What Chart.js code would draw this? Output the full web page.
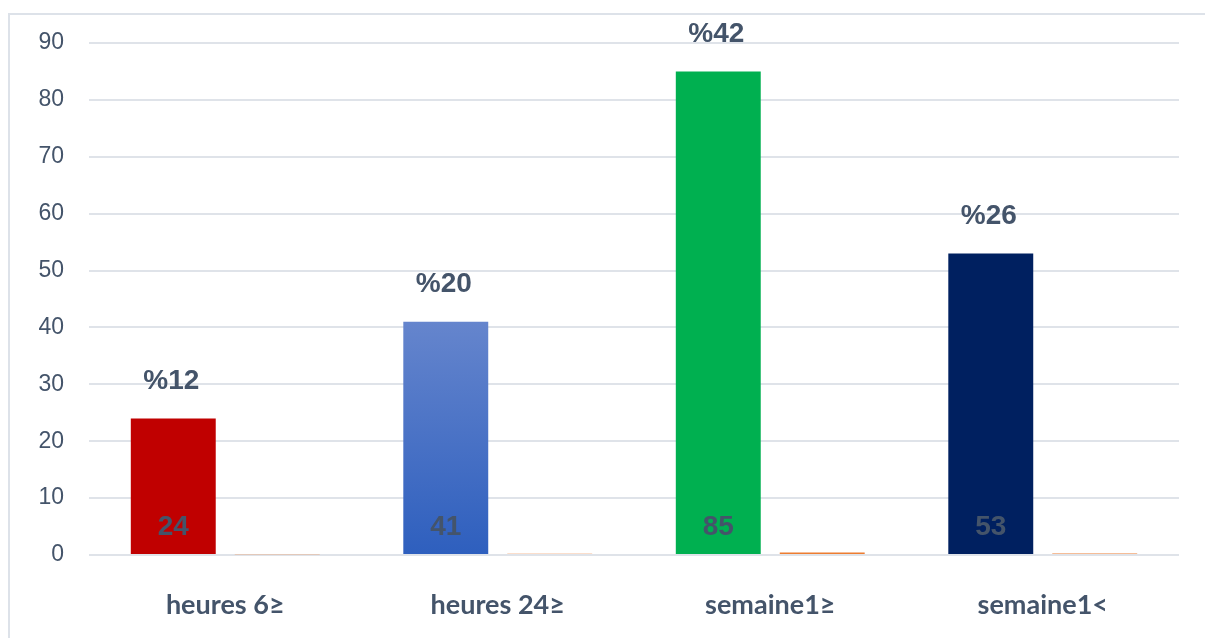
<!DOCTYPE html>
<html>
<head>
<meta charset="utf-8">
<script src="https://cdn.jsdelivr.net/npm/chart.js@4"></script>
<style>
  html, body { margin: 0; padding: 0; background: #fff; }
  #wrap { width: 1205px; height: 638px; }
</style>
</head>
<body>
<div id="wrap"><canvas id="myChart" width="1205" height="638"></canvas></div>
<script>
// data
const categories = ["heures 6≥", "heures 24≥", "semaine1≥", "semaine1<"];
const counts = [24, 41, 85, 53];
const percents = [12, 20, 42, 26];
const yTicks = [0, 10, 20, 30, 40, 50, 60, 70, 80, 90];

const barColors = ["#c00000", "blue-gradient", "#00b050", "#002060"];
const labelColor = "#44546a";
const gridColor = "#dfe3e9";

// percent series drawn as tiny bars (share / 100)
const shareValues = percents.map(p => p / 100);

function countColor(ctx) {
  let c = barColors[ctx.dataIndex];
  if (c !== "blue-gradient") return c;
  let chart = ctx.chart;
  if (!chart.chartArea) return "#4472c4";
  let y = chart.scales.y;
  let g = chart.ctx.createLinearGradient(0, y.getPixelForValue(counts[ctx.dataIndex]), 0, y.getPixelForValue(0));
  g.addColorStop(0, "#6585cd");
  g.addColorStop(1, "#2e5fbe");
  return g;
}

// frame + labels
const framePlugin = {
  id: "frame",
  beforeDraw(chart) {
    let c = chart.ctx;
    c.save();
    c.strokeStyle = "#dde2e9";
    c.lineWidth = 2;
    c.beginPath();
    c.moveTo(1205, 14);
    c.lineTo(9, 14);
    c.lineTo(9, 638);
    c.stroke();
    c.restore();
  }
};

const labelPlugin = {
  id: "barLabels",
  afterDatasetsDraw(chart) {
    let c = chart.ctx;
    let bars = chart.getDatasetMeta(0).data;
    let y = chart.scales.y;
    c.save();
    c.fillStyle = labelColor;
    c.textAlign = "center";
    c.textBaseline = "middle";
    c.font = "bold 28px 'Liberation Sans', Arial, sans-serif";
    bars.forEach(function(bar, i) {
      c.fillText(String(counts[i]), bar.x, y.getPixelForValue(0) - 28);
      c.fillText("%" + percents[i], bar.x - 2, bar.y - 37);
    });
    c.restore();
  }
};

let myChart = document.getElementById("myChart").getContext("2d");

let chart1 = new Chart(myChart, {
  type: "bar",
  data: {
    labels: categories,
    datasets: [
      {
        label: "count",
        data: counts,
        backgroundColor: countColor,
        categoryPercentage: 0.763,
        barPercentage: 0.817
      },
      {
        label: "share",
        data: shareValues,
        backgroundColor: "#ed7d31",
        categoryPercentage: 0.763,
        barPercentage: 0.817
      }
    ]
  },
  options: {
    responsive: false,
    animation: false,
    layout: { padding: { top: 43, right: 26, left: 0, bottom: 0 } },
    plugins: {
      legend: { display: false },
      tooltip: { enabled: false }
    },
    scales: {
      x: {
        grid: { display: false, drawTicks: false },
        border: { display: false },
        ticks: {
          color: labelColor,
          padding: 34,
          font: { family: "Lato, 'Open Sans', sans-serif", size: 27, weight: "bold" }
        },
        afterFit: function(scale) { scale.height = 83; }
      },
      y: {
        min: 0,
        max: 90,
        afterBuildTicks: function(scale) {
          scale.ticks = yTicks.map(v => ({ value: v }));
        },
        grid: { color: gridColor, lineWidth: 2, drawTicks: false },
        border: { display: false },
        ticks: {
          color: labelColor,
          padding: 25,
          font: { family: "'Liberation Sans', Arial, sans-serif", size: 23 }
        },
        afterFit: function(scale) { scale.width = 89; }
      }
    }
  },
  plugins: [framePlugin, labelPlugin]
});
</script>
</body>
</html>
